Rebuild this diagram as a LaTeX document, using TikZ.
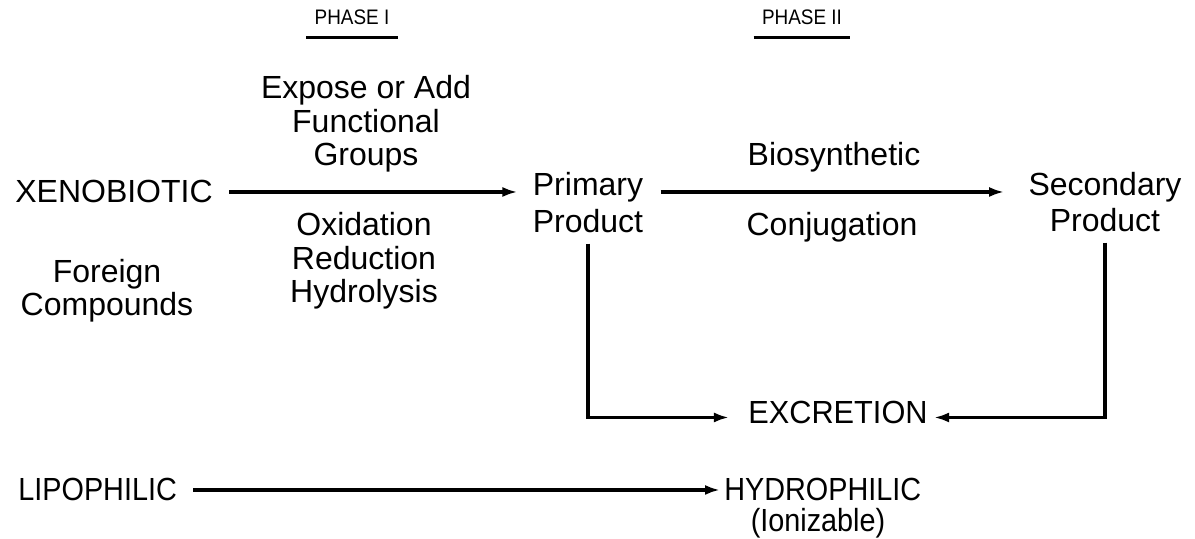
\documentclass[tikz,border=0pt]{standalone}
\usepackage{fontspec}
\setmainfont{Liberation Sans}
\newfontfamily\narrowsans[FakeStretch=0.9]{Liberation Sans}
\newfontfamily\widesans[FakeStretch=0.96]{Liberation Sans}
\usetikzlibrary{positioning,arrows.meta}

\begin{document}
\begin{tikzpicture}[
    x=0.5pt, y=-0.5pt,
    every node/.style={font=\fontsize{16}{16.75}\selectfont, inner sep=0pt, align=center},
    caps/.style={font=\fontsize{16}{16.75}\narrowsans},
    phase/.style={font=\fontsize{10.5}{12}\narrowsans, anchor=base},
    arrow/.style={-{Latex[length=7.5pt,width=5pt]}, line width=1.7pt},
    rule/.style={line width=1.7pt},
]
\useasboundingbox (0,0) rectangle (1195,539);

% column heads
\node[phase] (phase1) at (352,25) {PHASE I};
\node[phase] (phase2) at (802,25) {PHASE II};
\draw[rule] ([xshift=-4pt,yshift=-6pt]phase1.south west) -- ([xshift=4pt,yshift=-6pt]phase1.south east);
\draw[rule] ([xshift=-4pt,yshift=-6pt]phase2.south west) -- ([xshift=4pt,yshift=-6pt]phase2.south east);

% phase I (base = last line)
\node[anchor=base] (xeno) at (114,203) {XENOBIOTIC};
\node[anchor=base] (foreign) at (107,316) {Foreign\\Compounds};
\node[anchor=base] (expose) at (366,166) {Expose or Add\\Functional\\Groups};
\node[anchor=base] (oxid) at (364,303) {Oxidation\\Reduction\\Hydrolysis};
\node[anchor=base] (primary) at (588,233) {Primary\\[1.75pt]Product};

% phase II
\node[anchor=base] (biosyn) at (834,166) {Biosynthetic};
\node[anchor=base] (conj) at (832,236) {Conjugation};
\node[anchor=base] (secondary) at (1105,232) {Secondary\\[1.5pt]Product};
\node[anchor=base, font=\fontsize{16}{16.75}\widesans] (excretion) at (838,424) {EXCRETION};

% polarity
\node[caps, anchor=base west] (lipo) at (18,501) {LIPOPHILIC};
\node[caps, anchor=base west] (hydro) at (724,501) {HYDROPHILIC};
\node[caps, anchor=base] (ioniz) at (818,532) {(Ionizable)};

\draw[arrow, shorten <=8pt, shorten >=7.5pt] (xeno.east) -- (xeno.east -| primary.west);
\draw[arrow, shorten <=8.5pt, shorten >=12pt] (primary.east |- xeno.east) -- (xeno.east -| secondary.west);
\draw[arrow, shorten <=5pt, shorten >=9.5pt] (primary.south) |- ([yshift=-2.25pt]excretion.west);
\draw[arrow, shorten <=5pt, shorten >=3pt] (secondary.south) |- ([yshift=-2.25pt]excretion.east);
\draw[arrow, shorten <=8pt, shorten >=2pt] (lipo.east) -- (hydro.west);
\end{tikzpicture}
\end{document}
